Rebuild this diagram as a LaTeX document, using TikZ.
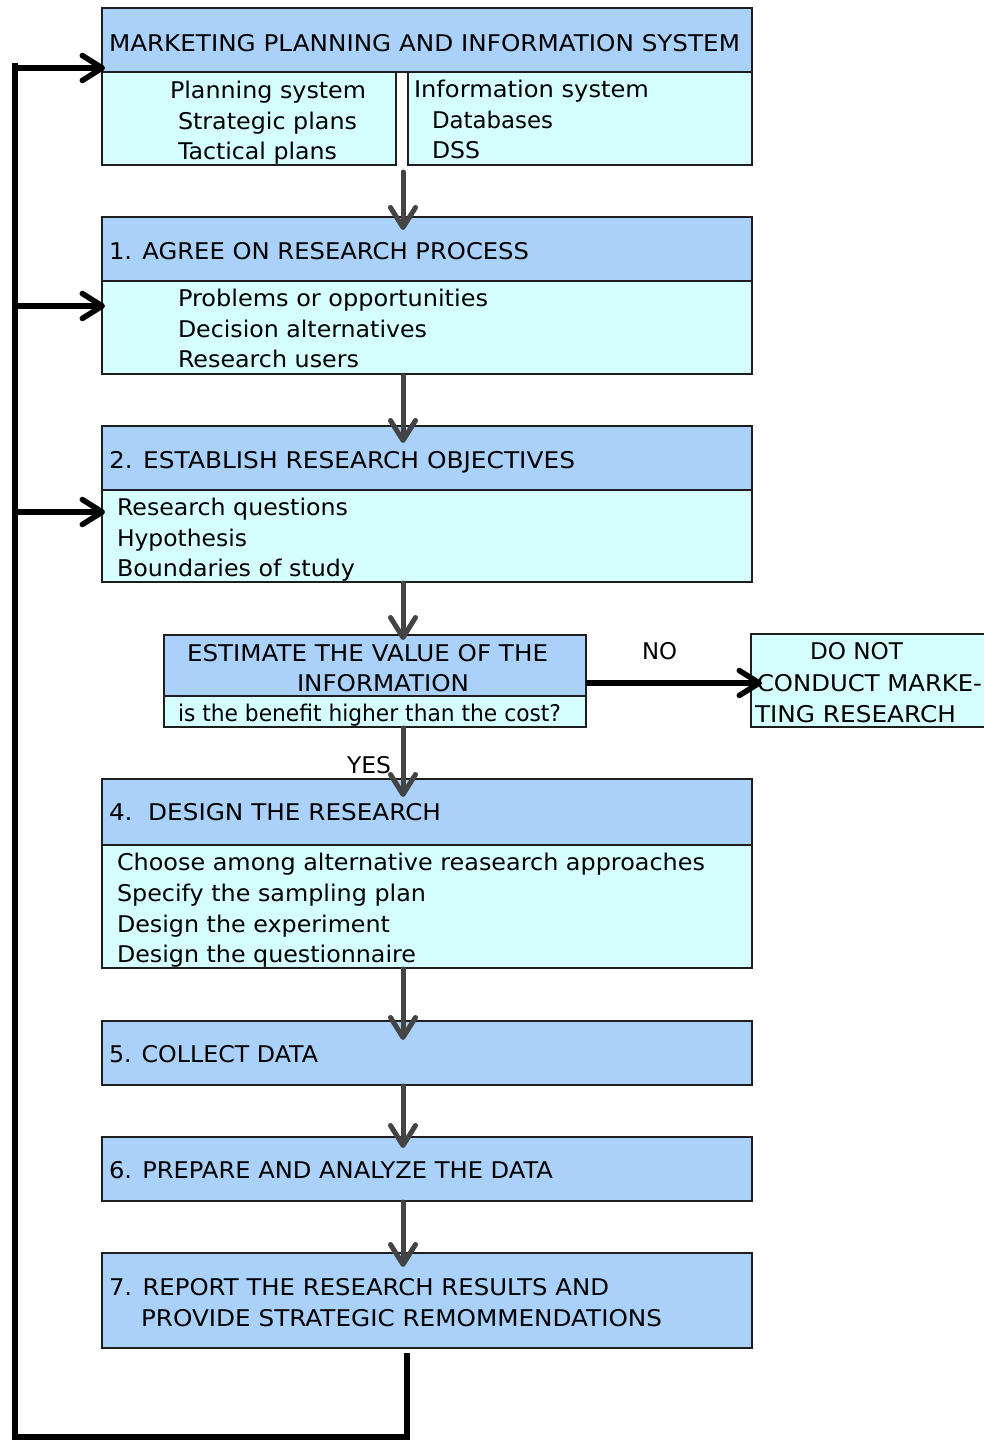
\documentclass[tikz,border=0pt]{standalone}
\usepackage{fontspec}
\setmainfont{DejaVu Sans}
\usepackage{graphicx}
\usetikzlibrary{arrows.meta,calc}
\definecolor{hdrblue}{HTML}{A9D1F9}
\definecolor{bodycyan}{HTML}{D5FEFE}
\definecolor{agray}{HTML}{444444}
\definecolor{edgecol}{HTML}{1E1E1E}
\newcommand{\fitw}[2]{\resizebox{#1pt}{\height}{#2}}
\tikzset{
  wh/.style 2 args={minimum width=#1pt, minimum height=#2pt},
  hdr/.style={draw=edgecol, line width=2pt, fill=hdrblue, anchor=north west, rectangle, inner sep=0pt, outer sep=0pt},
  bdy/.style={draw=edgecol, line width=2pt, fill=bodycyan, anchor=north west, rectangle, inner sep=0pt, outer sep=0pt},
  tx/.style={anchor=base west, inner sep=0pt, outer sep=0pt, font=\fontsize{23}{27}\selectfont},
  garrow/.style={draw=agray, line width=5pt, line cap=round,
    -{Straight Barb[length=20pt,width=25pt,line cap=round,line join=round]}},
  barrow/.style={draw=black, line width=5.5pt,
    -{Straight Barb[length=20pt,width=25pt,line cap=round,line join=round]}},
  fbline/.style={draw=black, line width=6pt, line join=miter}
}
\begin{document}
\begin{tikzpicture}[x=1pt,y=-1pt]
\clip (0,0) rectangle (984,1441);
\fill[white] (0,0) rectangle (984,1441);

% boxes
\node[hdr, wh={650}{64}] (h0) at (102,8) {};
\node[bdy, wh={294}{93}] (s0L) at (102,72) {};
\node[bdy, wh={344}{93}] (s0R) at (408,72) {};
\node[hdr, wh={650}{64}] (h1) at (102,217) {};
\node[bdy, wh={650}{93}] (b1) at (102,281) {};
\node[hdr, wh={650}{64}] (h2) at (102,426) {};
\node[bdy, wh={650}{92}] (b2) at (102,490) {};
\node[hdr, wh={422}{61}] (hE) at (164,635) {};
\node[bdy, wh={422}{31}] (bE) at (164,696) {};
\node[bdy, wh={260}{93}] (dn) at (751,634) {};
\node[hdr, wh={650}{66}] (h4) at (102,779) {};
\node[bdy, wh={650}{123}] (b4) at (102,845) {};
\node[hdr, wh={650}{64}] (h5) at (102,1021) {};
\node[hdr, wh={650}{64}] (h6) at (102,1137) {};
\node[hdr, wh={650}{95}] (h7) at (102,1253) {};

% texts
\node[tx] (t0) at (109,51) {\fitw{631}{MARKETING PLANNING AND INFORMATION SYSTEM}};
\node[tx] (t0a) at (170,98) {\fitw{196}{Planning system}};
\node[tx] (t0b) at (178,129) {\fitw{179}{Strategic plans}};
\node[tx] (t0c) at (178,159) {\fitw{159}{Tactical plans}};
\node[tx] (t0d) at (414,97) {\fitw{235}{Information system}};
\node[tx] (t0e) at (432,128) {\fitw{121}{Databases}};
\node[tx] (t0f) at (432,158) {\fitw{48}{DSS}};

\node[tx] (t1) at (109,259) {\fitw{420}{1. AGREE ON RESEARCH PROCESS}};
\node[tx] (t1a) at (178,306) {\fitw{310}{Problems or opportunities}};
\node[tx] (t1b) at (178,337) {\fitw{249}{Decision alternatives}};
\node[tx] (t1c) at (178,367) {\fitw{181}{Research users}};

\node[tx] (t2) at (109,468) {\fitw{466}{2. ESTABLISH RESEARCH OBJECTIVES}};
\node[tx] (t2a) at (117,515) {\fitw{231}{Research questions}};
\node[tx] (t2b) at (117,546) {\fitw{130}{Hypothesis}};
\node[tx] (t2c) at (117,576) {\fitw{238}{Boundaries of study}};

\node[tx] (tEa) at (187,661) {\fitw{361}{ESTIMATE THE VALUE OF THE}};
\node[tx] (tEb) at (297,691) {\fitw{172}{INFORMATION}};
\node[tx] (tEc) at (178,721) {\fitw{383}{is the benefit higher than the cost?}};

\node[tx] (tno) at (642,659) {\fitw{35}{NO}};
\node[tx] (tdn1) at (810,659) {\fitw{93}{DO NOT}};
\node[tx] (tdn2) at (757,691) {\fitw{225}{CONDUCT MARKE-}};
\node[tx] (tdn3) at (755,722) {\fitw{201}{TING RESEARCH}};

\node[tx] (tyes) at (347,773) {\fitw{44}{YES}};

\node[tx] (t4) at (109,820) {\fitw{332}{4.~\ DESIGN THE RESEARCH}};
\node[tx] (t4a) at (117,870) {\fitw{588}{Choose among alternative reasearch approaches}};
\node[tx] (t4b) at (117,901) {\fitw{309}{Specify the sampling plan}};
\node[tx] (t4c) at (117,932) {\fitw{273}{Design the experiment}};
\node[tx] (t4d) at (117,962) {\fitw{299}{Design the questionnaire}};

\node[tx] (t5) at (109,1062) {\fitw{209}{5. COLLECT DATA}};
\node[tx] (t6) at (109,1178) {\fitw{444}{6. PREPARE AND ANALYZE THE DATA}};
\node[tx] (t7a) at (109,1295) {\fitw{500}{7. REPORT THE RESEARCH RESULTS AND}};
\node[tx] (t7b) at (141,1326) {\fitw{521}{PROVIDE STRATEGIC REMOMMENDATIONS}};

% main flow arrows
\coordinate (ax) at (403,0);
\draw[garrow] ($(s0L.south -| ax)+(0,7)$) -- ($(h1.north -| ax)+(0,13)$);
\draw[garrow] ($(b1.south -| ax)+(0,2)$) -- ($(h2.north -| ax)+(0,17)$);
\draw[garrow] ($(b2.south -| ax)+(0,1)$) -- ($(hE.north -| ax)+(0,5)$);
\draw[garrow] ($(bE.south -| ax)+(0,1)$) -- ($(h4.north -| ax)+(0,18)$);
\draw[garrow] ($(b4.south -| ax)+(0,1)$) -- ($(h5.north -| ax)+(0,19)$);
\draw[garrow] ($(h5.south -| ax)+(0,1)$) -- ($(h6.north -| ax)+(0,11)$);
\draw[garrow] ($(h6.south -| ax)+(0,1)$) -- ($(h7.north -| ax)+(0,14)$);

% NO arrow
\coordinate (noy) at (0,683);
\draw[barrow] (hE.east |- noy) -- ($(dn.west |- noy)+(11,0)$);

% feedback loop
\coordinate (fbx) at (407,0);
\coordinate (fb0) at ($(h7.south -| fbx)+(0,5)$);
\coordinate (fb1) at (407,1437);
\coordinate (fb2) at (15,1437);
\coordinate (fb3) at (15,63);
\draw[fbline] (fb0) -- (fb1) -- (fb2) -- (fb3);
\coordinate (br0) at (15,68);
\coordinate (br1) at (15,306);
\coordinate (br2) at (15,512);
\draw[barrow] (br0) -- ($(h0.west |- br0)+(3,0)$);
\draw[barrow] (br1) -- ($(b1.west |- br1)+(3,0)$);
\draw[barrow] (br2) -- ($(b2.west |- br2)+(3,0)$);
\end{tikzpicture}
\end{document}
